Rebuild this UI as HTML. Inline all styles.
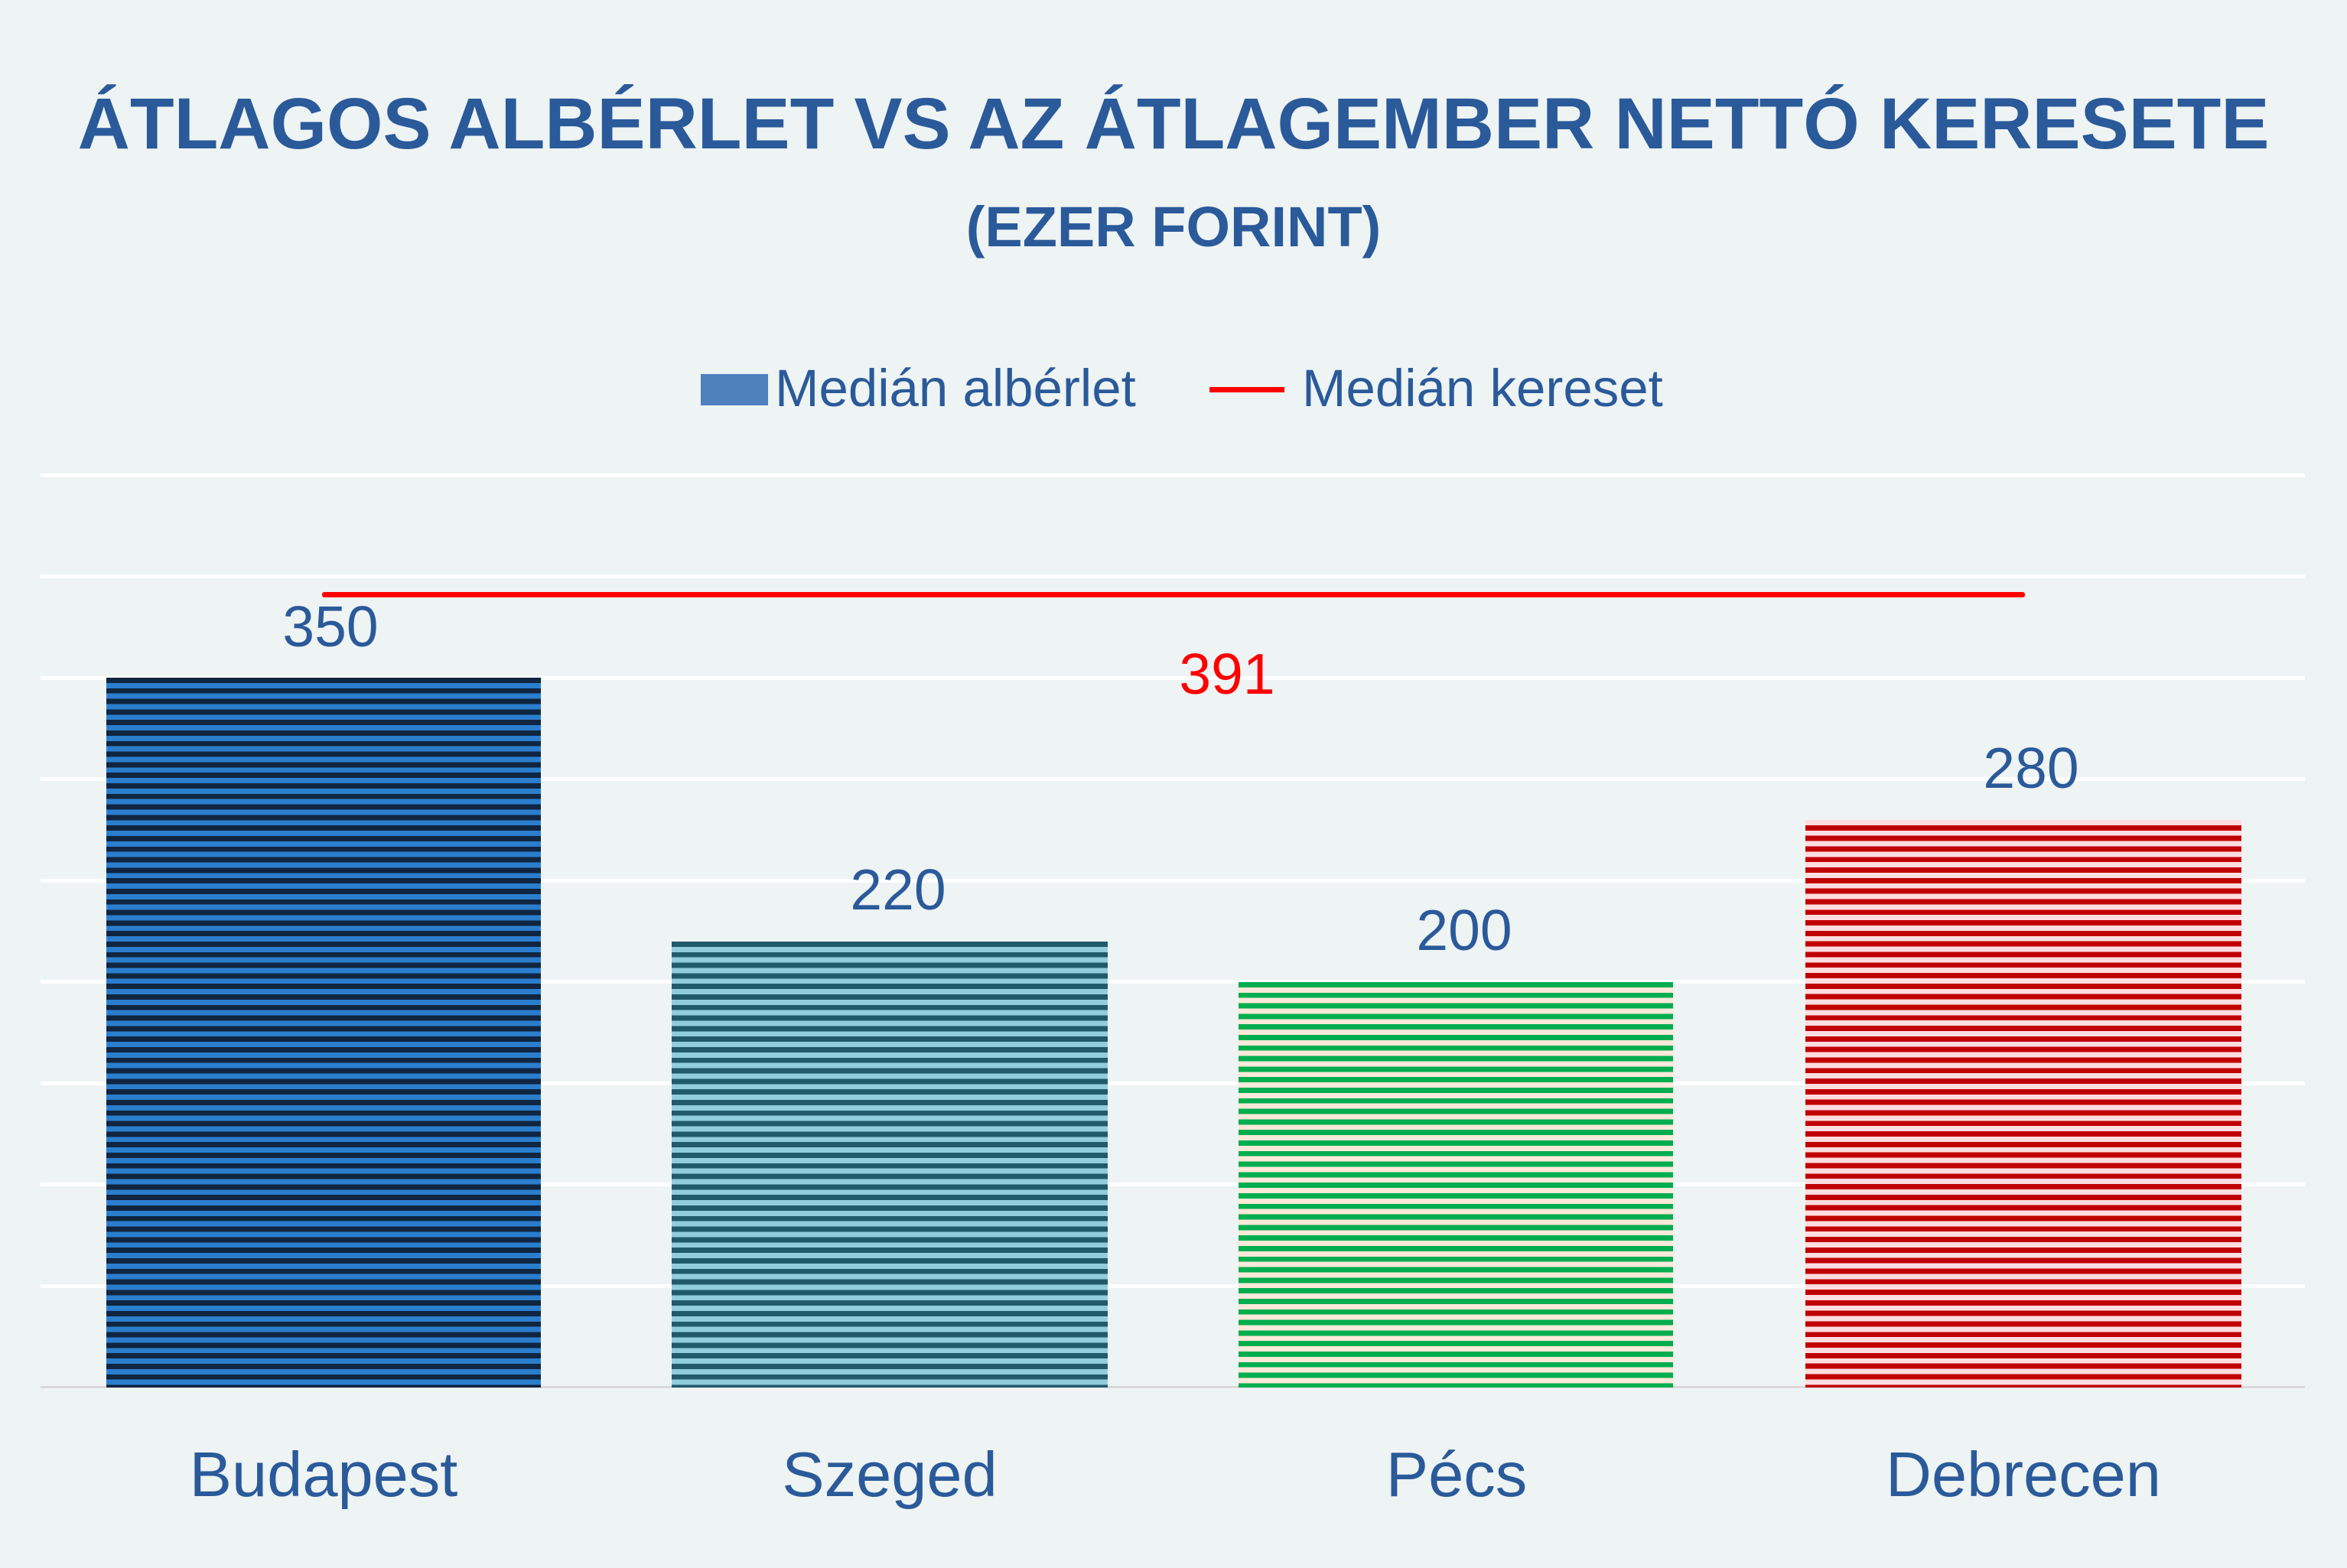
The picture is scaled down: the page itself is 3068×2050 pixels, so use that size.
<!DOCTYPE html>
<html><head><meta charset="utf-8"><style>
html,body{margin:0;padding:0}
body{width:3068px;height:2050px;background:#eef3f3;position:relative;overflow:hidden;font-family:"Liberation Sans",sans-serif;color:#2a5a9a}
.a{position:absolute}
.grid{position:absolute;left:53px;width:2960px;height:5px;background:#fff}
.bar{position:absolute;bottom:236px}
.t{position:absolute;text-align:center;white-space:nowrap;transform:translateX(-50%)}
</style></head><body>
<div class="t" style="left:1534px;top:108px;font-size:94.5px;font-weight:bold;color:#2a5a9a">ÁTLAGOS ALBÉRLET VS AZ ÁTLAGEMBER NETTÓ KERESETE</div>
<div class="t" style="left:1534px;top:254px;font-size:74px;font-weight:bold;color:#2a5a9a">(EZER FORINT)</div>
<div class="a" style="left:916px;top:489px;width:88px;height:41px;background:#4f81bd"></div>
<div class="a" style="left:1013px;top:468px;font-size:69px">Medián albérlet</div>
<div class="a" style="left:1581px;top:506px;width:98px;height:7px;background:#f00"></div>
<div class="a" style="left:1702px;top:468px;font-size:69px">Medián kereset</div>
<div class="grid" style="top:619px"></div>
<div class="grid" style="top:751px"></div>
<div class="grid" style="top:884px"></div>
<div class="grid" style="top:1016px"></div>
<div class="grid" style="top:1149px"></div>
<div class="grid" style="top:1281px"></div>
<div class="grid" style="top:1414px"></div>
<div class="grid" style="top:1546px"></div>
<div class="grid" style="top:1679px"></div>
<div class="a" style="left:53px;top:1812px;width:2960px;height:3px;background:#d9d9d9"></div>
<div class="bar" style="left:139px;width:568px;top:886px;height:928px;background:repeating-linear-gradient(#10253f 0 6.9px,#2b7ece 6.9px 13.8px)"></div>
<div class="bar" style="left:878px;width:570px;top:1231px;height:583px;background:repeating-linear-gradient(#215a6b 0 6.9px,#92cddd 6.9px 13.8px)"></div>
<div class="bar" style="left:1619px;width:568px;top:1284px;height:530px;background:repeating-linear-gradient(#00ad4f 0 6.9px,#fde9d9 6.9px 13.8px)"></div>
<div class="bar" style="left:2360px;width:570px;top:1072px;height:742px;background:repeating-linear-gradient(#ffdde0 0 6.9px,#c00000 6.9px 13.8px)"></div>
<div class="a" style="left:421px;top:774px;width:2226px;height:7px;background:#f00;border-radius:3px"></div>
<div class="t" style="left:432px;top:776px;font-size:75px">350</div>
<div class="t" style="left:1174px;top:1120px;font-size:75px">220</div>
<div class="t" style="left:1914px;top:1173px;font-size:75px">200</div>
<div class="t" style="left:2655px;top:961px;font-size:75px">280</div>
<div class="t" style="left:1604px;top:838px;font-size:75px;color:#f00">391</div>
<div class="t" style="left:423px;top:1880px;font-size:83px">Budapest</div>
<div class="t" style="left:1163px;top:1880px;font-size:83px">Szeged</div>
<div class="t" style="left:1904px;top:1880px;font-size:83px">Pécs</div>
<div class="t" style="left:2645px;top:1880px;font-size:83px">Debrecen</div>
</body></html>
